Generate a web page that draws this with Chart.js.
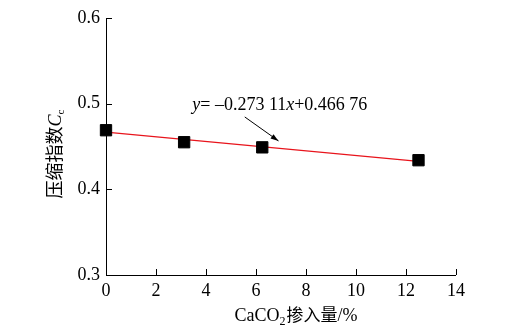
<!DOCTYPE html>
<html>
<head>
<meta charset="utf-8">
<script src="https://cdn.jsdelivr.net/npm/chart.js@4/dist/chart.umd.min.js"></script>
<style>
  html, body { margin: 0; padding: 0; background: #fff; }
  #wrap { width: 527px; height: 329px; position: relative; }
</style>
</head>
<body>
<div id="wrap"><canvas id="c"></canvas></div>
<script>
// CaCO2 content (%) and measured compression index Cc
const dosage = [0, 3.125, 6.25, 12.5];
const cc = [0.469, 0.455, 0.449, 0.434];

// Linear fit (x as a fraction): y = -0.27311x + 0.46676
const fitSlope = -0.27311;
const fitIntercept = 0.46676;
const fitX = [0, 12.5];

const xTicks = [0, 2, 4, 6, 8, 10, 12, 14];
const yTicks = [0.3, 0.4, 0.5, 0.6];

const fitPoints = fitX.map(x => ({ x: x, y: fitIntercept + fitSlope * x / 100 }));
const measured = dosage.map((x, i) => ({ x: x, y: cc[i] }));

const SERIF = '"Liberation Serif", "Times New Roman", serif';
const CJK = '"Noto Sans CJK SC", sans-serif';

// Inward ticks, axis titles, fit equation and arrow
const decor = {
  id: 'decor',
  afterDraw(chart) {
    const ctx = chart.ctx;
    const xs = chart.scales.x, ys = chart.scales.y;
    const left = xs.left, bottom = ys.bottom;
    ctx.save();
    ctx.strokeStyle = '#000';
    ctx.lineWidth = 1;
    // axis lines
    ctx.beginPath();
    ctx.moveTo(left + 0.5, ys.top);
    ctx.lineTo(left + 0.5, bottom + 0.5);
    ctx.lineTo(xs.right, bottom + 0.5);
    ctx.stroke();
    // inward ticks
    ctx.beginPath();
    xTicks.forEach(v => {
      const px = Math.round(xs.getPixelForValue(v)) + 0.5;
      ctx.moveTo(px, bottom);
      ctx.lineTo(px, bottom - 6);
    });
    yTicks.forEach(v => {
      const py = Math.round(ys.getPixelForValue(v)) + 0.5;
      ctx.moveTo(left, py);
      ctx.lineTo(left + 6, py);
    });
    ctx.stroke();

    ctx.fillStyle = '#000';
    ctx.textBaseline = 'alphabetic';

    // x title: CaCO2掺入量/%
    const xt = [
      { t: 'CaCO', f: '18px ' + SERIF, dy: 0, gap: 0 },
      { t: '2', f: '12px ' + SERIF, dy: 4, gap: 1 },
      { t: '掺入量', f: '17px ' + CJK, dy: 0, gap: 0 },
      { t: '/%', f: '18px ' + SERIF, dy: 0, gap: 0 }
    ];
    let tw = 0;
    xt.forEach(p => { ctx.font = p.f; tw += ctx.measureText(p.t).width + p.gap; });
    let cx = 296 - tw / 2;
    const by = 321;
    ctx.textAlign = 'left';
    xt.forEach(p => { ctx.font = p.f; ctx.fillText(p.t, cx, by + p.dy); cx += ctx.measureText(p.t).width + p.gap; });

    // y title: 压缩指数Cc (rotated)
    ctx.save();
    ctx.translate(61, 154);
    ctx.rotate(-Math.PI / 2);
    const yt = [
      { t: '压缩指数', f: '18px ' + CJK, dy: 0 },
      { t: 'C', f: 'italic 18px ' + SERIF, dy: 0 },
      { t: 'c', f: '11px ' + SERIF, dy: 3 }
    ];
    tw = 0;
    yt.forEach(p => { ctx.font = p.f; tw += ctx.measureText(p.t).width; });
    cx = -tw / 2;
    yt.forEach(p => { ctx.font = p.f; ctx.fillText(p.t, cx, p.dy); cx += ctx.measureText(p.t).width; });
    ctx.restore();

    // fit equation
    const eq = [
      { t: 'y', f: 'italic 18px ' + SERIF },
      { t: '= \u20130.273 11', f: '18px ' + SERIF },
      { t: 'x', f: 'italic 18px ' + SERIF },
      { t: '+0.466 76', f: '18px ' + SERIF }
    ];
    cx = xs.getPixelForValue(3.45);
    const ey = ys.getPixelForValue(0.5) + 6;
    eq.forEach(p => { ctx.font = p.f; ctx.fillText(p.t, cx, ey); cx += ctx.measureText(p.t).width; });

    // arrow pointing at the fit line
    const x0 = xs.getPixelForValue(5.55), y0 = ys.getPixelForValue(0.4845);
    const x1 = xs.getPixelForValue(6.9), y1 = ys.getPixelForValue(0.4565);
    ctx.beginPath();
    ctx.moveTo(x0, y0);
    ctx.lineTo(x1, y1);
    ctx.stroke();
    const ang = Math.atan2(y1 - y0, x1 - x0);
    const hl = 8, hw = 2.6;
    ctx.beginPath();
    ctx.moveTo(x1, y1);
    ctx.lineTo(x1 - hl * Math.cos(ang) + hw * Math.sin(ang), y1 - hl * Math.sin(ang) - hw * Math.cos(ang));
    ctx.lineTo(x1 - hl * Math.cos(ang) - hw * Math.sin(ang), y1 - hl * Math.sin(ang) + hw * Math.cos(ang));
    ctx.closePath();
    ctx.fill();
    ctx.restore();
  }
};

new Chart(document.getElementById('c'), {
  type: 'scatter',
  data: {
    datasets: [
      {
        data: fitPoints,
        showLine: true,
        borderColor: '#e8141c',
        borderWidth: 1.2,
        pointRadius: 0,
        clip: false,
        order: 2
      },
      {
        data: measured,
        pointStyle: 'rect',
        pointRadius: 8,
        backgroundColor: '#000',
        borderColor: '#000',
        borderWidth: 1,
        clip: false,
        order: 1
      }
    ]
  },
  options: {
    responsive: true,
    maintainAspectRatio: false,
    animation: false,
    layout: { padding: { left: 0, right: 71, top: 18, bottom: 0 } },
    plugins: { legend: { display: false }, tooltip: { enabled: false } },
    scales: {
      x: {
        type: 'linear',
        min: 0, max: 14,
        afterBuildTicks: s => { s.ticks = xTicks.map(v => ({ value: v })); },
        afterFit: s => { s.height = 54; },
        grid: { display: false, drawTicks: false },
        border: { display: false },
        ticks: { color: '#000', font: { family: SERIF, size: 18 }, padding: 5, maxRotation: 0 }
      },
      y: {
        type: 'linear',
        min: 0.3, max: 0.6,
        afterBuildTicks: s => { s.ticks = yTicks.map(v => ({ value: v })); },
        afterFit: s => { s.width = 106; },
        grid: { display: false, drawTicks: false },
        border: { display: false },
        ticks: { color: '#000', font: { family: SERIF, size: 18 }, padding: 6,
                 callback: v => v.toFixed(1) }
      }
    }
  },
  plugins: [decor]
});
</script>
</body>
</html>
